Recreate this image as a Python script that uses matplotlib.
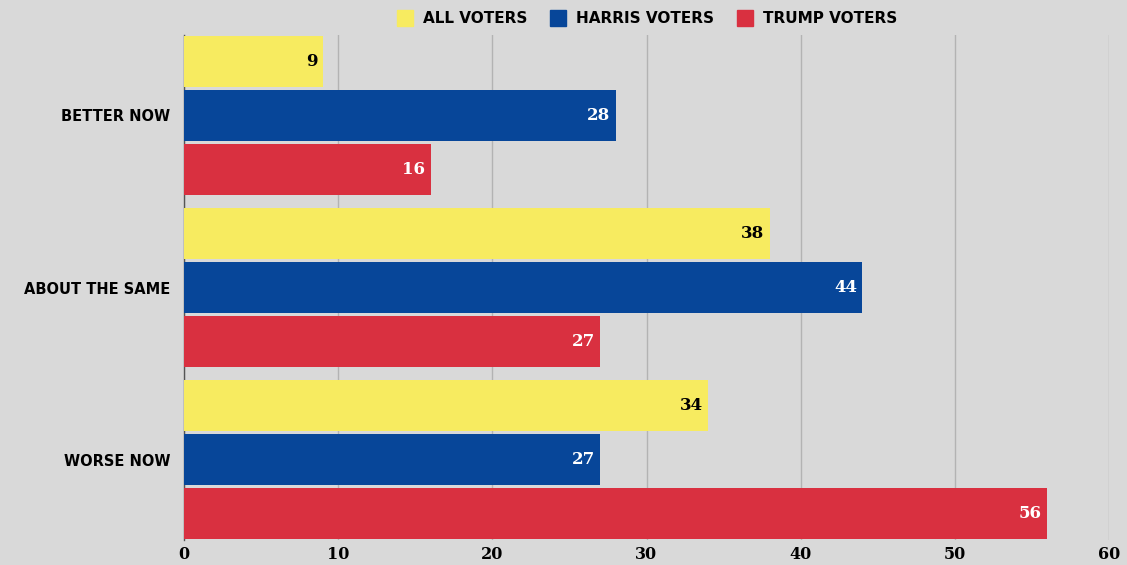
import numpy as np
import matplotlib.pyplot as plt
from matplotlib.lines import Line2D

categories = ["BETTER NOW", "ABOUT THE SAME", "WORSE NOW"]
series_names = ["ALL VOTERS", "HARRIS VOTERS", "TRUMP VOTERS"]
all_voters = [9, 38, 34]
harris_voters = [28, 44, 27]
trump_voters = [16, 27, 56]
x_ticks = [0, 10, 20, 30, 40, 50, 60]

colors = ["#f7eb60", "#074699", "#d93040"]
text_colors = ["black", "white", "white"]
bg = "#d9d9d9"

fig = plt.figure(figsize=(11.27, 5.65), dpi=100)
fig.patch.set_facecolor(bg)
ax = fig.add_axes([184 / 1127, 1 - 540 / 565, (1109 - 184) / 1127, (540 - 35) / 565])
ax.set_facecolor(bg)

pitch = 54 / 172
height = 51 / 172
ypos = np.arange(len(categories))

for i, (vals, col, tcol) in enumerate(zip([all_voters, harris_voters, trump_voters], colors, text_colors)):
    y = ypos + (i - 1) * pitch
    bars = ax.barh(y, vals, height=height, color=col, zorder=3)
    for b, v in zip(bars, vals):
        ax.text(v - 0.35, b.get_y() + b.get_height() / 2, str(v), ha="right", va="center",
                color=tcol, fontsize=12, fontweight="bold", family="DejaVu Serif", zorder=4)

ax.set_xlim(0, 60)
ax.set_ylim(2 + 0.468, -0.468)
ax.set_xticks(x_ticks)
ax.set_xticklabels([str(t) for t in x_ticks], fontsize=11.5, fontweight="bold", family="DejaVu Serif")
ax.set_yticks(ypos)
ax.set_yticklabels(categories, fontsize=10.5, fontweight="bold", family="DejaVu Sans")
ax.tick_params(length=0)
ax.tick_params(axis="y", pad=10)
ax.tick_params(axis="x", pad=4)
ax.grid(axis="x", color="#b3b3b3", linewidth=1, zorder=0)
for s in ["top", "right", "bottom"]:
    ax.spines[s].set_visible(False)
ax.spines["left"].set_color("#555555")
ax.spines["left"].set_linewidth(1)

handles = [Line2D([0], [0], marker="s", linestyle="", markersize=11, color=c) for c in colors]
fig.legend(handles, series_names, loc="upper center", bbox_to_anchor=(0.571, 1.004), ncol=3, frameon=False,
           prop={"weight": "bold", "size": 11}, handletextpad=0.2, columnspacing=1.0)

fig.savefig("out.png", dpi=100, facecolor=bg)
